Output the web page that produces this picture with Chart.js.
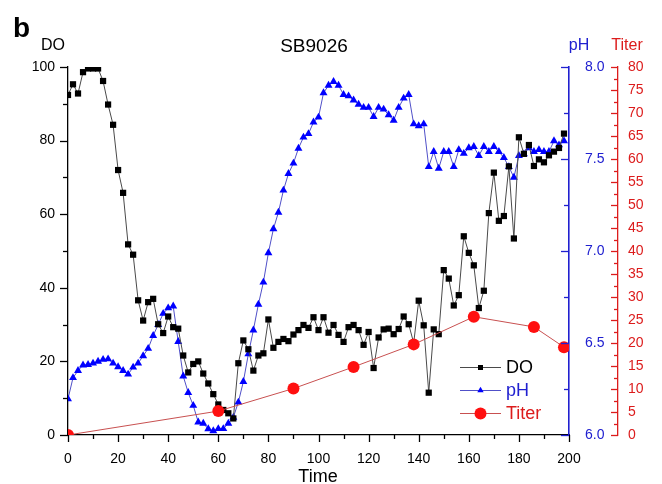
<!DOCTYPE html>
<html>
<head>
<meta charset="utf-8">
<script src="https://cdn.jsdelivr.net/npm/chart.js@4.4.0/dist/chart.umd.min.js"></script>
<style>
  html, body { margin: 0; padding: 0; background: #fff; }
  canvas { display: block; }
</style>
</head>
<body>
<canvas id="chart" width="662" height="484"></canvas>
<script>
// sampling times (h)
const time = [
  0, 2, 4, 6, 8, 10, 12, 14, 16, 18, 20, 22, 24, 26, 28, 30, 32, 34, 36, 38,
  40, 42, 44, 46, 48, 50, 52, 54, 56, 58, 60, 62, 64, 66, 68, 70, 72, 74, 76, 78,
  80, 82, 84, 86, 88, 90, 92, 94, 96, 98, 100, 102, 104, 106, 108, 110, 112, 114, 116, 118,
  120, 122, 124, 126, 128, 130, 132, 134, 136, 138, 140, 142, 144, 146, 148, 150, 152, 154, 156, 158,
  160, 162, 164, 166, 168, 170, 172, 174, 176, 178, 180, 182, 184, 186, 188, 190, 192, 194, 196, 198
];

const doValues = [
  92.4, 95.3, 92.8, 98.6, 99.6, 99.6, 99.6, 96.2, 89.8, 84.3, 72.0, 65.8, 51.8, 49.0, 36.6, 31.1, 36.1, 37.0, 30.1, 27.7,
  32.2, 29.3, 28.9, 21.6, 17.0, 19.3, 20.0, 16.7, 14.0, 11.1, 8.3, 6.8, 5.9, 4.5, 19.5, 25.7, 23.3, 17.5, 21.6, 22.2,
  31.4, 23.7, 25.3, 26.1, 25.5, 27.3, 28.5, 29.9, 29.1, 32.0, 28.5, 32.0, 27.8, 29.9, 27.2, 25.3, 29.3, 29.9, 28.5, 24.5,
  28.0, 18.2, 26.5, 28.7, 28.9, 27.4, 28.8, 32.2, 30.1, 25.0, 36.5, 29.8, 11.5, 28.7, 27.4, 44.8, 42.5, 35.2, 38.0, 54.0,
  49.5, 46.1, 34.5, 39.2, 60.3, 71.3, 58.2, 59.5, 73.0, 53.4, 80.9, 76.4, 78.8, 73.1, 74.9, 74.1, 76.0, 77.0, 78.0, 81.9
];

const phValues = [
  6.196, 6.311, 6.35, 6.38, 6.382, 6.39, 6.40, 6.41, 6.413, 6.39, 6.37, 6.35, 6.33, 6.368, 6.39, 6.43, 6.47, 6.54, 6.60, 6.66,
  6.69, 6.70, 6.507, 6.32, 6.23, 6.16, 6.07, 6.063, 6.033, 6.022, 6.034, 6.034, 6.063, 6.096, 6.178, 6.29, 6.44, 6.57, 6.71, 6.83,
  6.99, 7.12, 7.21, 7.33, 7.42, 7.477, 7.558, 7.618, 7.637, 7.70, 7.727, 7.859, 7.90, 7.92, 7.90, 7.85, 7.842, 7.82, 7.797, 7.78,
  7.78, 7.73, 7.78, 7.77, 7.74, 7.71, 7.78, 7.83, 7.85, 7.69, 7.68, 7.69, 7.458, 7.54, 7.449, 7.54, 7.54, 7.458, 7.55, 7.53,
  7.56, 7.567, 7.518, 7.567, 7.54, 7.567, 7.54, 7.507, 7.458, 7.40, 7.518, 7.527, 7.56, 7.54, 7.55, 7.54, 7.54, 7.598, 7.576, 7.598
];

const titerTime = [0, 60, 90, 114, 138, 162, 186, 198];
const titerValues = [0, 5.2, 10.1, 14.8, 19.7, 25.7, 23.5, 19.1];

const FONT = "'Liberation Sans', Arial, sans-serif";
const BLUE = '#2020d0';
const RED = '#dc1c1c';

const toPoints = (xs, ys) => xs.map((x, i) => ({ x: x, y: ys[i] }));

// minor/major tick marks drawn by hand so the two lengths can differ
const tickSpecs = [
  { id: 'x', step: 10, major: 20, len: [7, 4], side: 'down', color: '#000' },
  { id: 'yDO', step: 10, major: 20, len: [8, 5], side: 'left', color: '#000' },
  { id: 'yPH', step: 0.25, major: 0.5, len: [8, 5], side: 'left', color: BLUE },
  { id: 'yTiter', step: 2.5, major: 5, len: [7, 4], side: 'left', color: RED }
];

const decorations = {
  id: 'decorations',
  afterDraw(chart) {
    const ctx = chart.ctx;
    ctx.save();

    tickSpecs.forEach(spec => {
      const scale = chart.scales[spec.id];
      ctx.strokeStyle = spec.color;
      ctx.lineWidth = 1.3;
      const n = Math.round((scale.max - scale.min) / spec.step);
      for (let i = 0; i <= n; i++) {
        const v = scale.min + i * spec.step;
        const isMajor = Math.abs(v / spec.major - Math.round(v / spec.major)) < 1e-6;
        const len = isMajor ? spec.len[0] : spec.len[1];
        const p = Math.round(scale.getPixelForValue(v)) + 0.5;
        ctx.beginPath();
        if (spec.side === 'down') {
          ctx.moveTo(p, scale.top);
          ctx.lineTo(p, scale.top + len);
        } else {
          const x0 = spec.id === 'yDO' ? scale.right : scale.left;
          ctx.moveTo(x0, p);
          ctx.lineTo(x0 - len, p);
        }
        ctx.stroke();
      }
    });

    // panel letter, axis titles, chart title
    ctx.fillStyle = '#000';
    ctx.textBaseline = 'alphabetic';
    ctx.textAlign = 'left';
    ctx.font = 'bold 28px ' + FONT;
    ctx.fillText('b', 13, 37);

    ctx.font = '16px ' + FONT;
    ctx.textAlign = 'center';
    ctx.fillText('DO', 53, 50);
    ctx.fillStyle = BLUE;
    ctx.fillText('pH', 579, 50);
    ctx.fillStyle = RED;
    ctx.fillText('Titer', 627, 50);

    ctx.fillStyle = '#000';
    ctx.font = '19px ' + FONT;
    ctx.fillText('SB9026', 314, 52);

    ctx.font = '18px ' + FONT;
    ctx.fillText('Time', 318, 482);

    // legend
    const rows = [
      { ds: chart.data.datasets[1], y: 367, color: '#000' },
      { ds: chart.data.datasets[2], y: 390, color: BLUE },
      { ds: chart.data.datasets[0], y: 413, color: RED }
    ];
    ctx.font = '18px ' + FONT;
    ctx.textAlign = 'left';
    ctx.textBaseline = 'middle';
    rows.forEach(r => {
      ctx.strokeStyle = r.ds.borderColor;
      ctx.lineWidth = 1;
      ctx.beginPath();
      ctx.moveTo(460, r.y + 0.5);
      ctx.lineTo(501, r.y + 0.5);
      ctx.stroke();
      ctx.fillStyle = r.ds.pointBackgroundColor;
      ctx.strokeStyle = r.ds.pointBorderColor;
      Chart.helpers.drawPoint(ctx, {
        pointStyle: r.ds.pointStyle,
        radius: r.ds.pointStyle === 'circle' ? r.ds.pointRadius : r.ds.pointRadius * 0.8,
        rotation: 0,
        borderWidth: 0
      }, 480.5, r.y + 0.5);
      ctx.fillStyle = r.color;
      ctx.fillText(r.ds.label, 506, r.y + 1);
    });

    ctx.restore();
  }
};

new Chart(document.getElementById('chart'), {
  type: 'line',
  data: {
    datasets: [
      {
        label: 'Titer',
        data: toPoints(titerTime, titerValues),
        yAxisID: 'yTiter',
        borderColor: '#c85050',
        borderWidth: 1,
        pointStyle: 'circle',
        pointRadius: 6,
        pointBackgroundColor: '#ff1010',
        pointBorderColor: '#ff1010',
        pointBorderWidth: 0,
        order: 0
      },
      {
        label: 'DO',
        data: toPoints(time, doValues),
        yAxisID: 'yDO',
        borderColor: '#4a4a4a',
        borderWidth: 1,
        pointStyle: 'rect',
        pointRadius: 4.4,
        pointBackgroundColor: '#000',
        pointBorderColor: '#000',
        pointBorderWidth: 0,
        order: 1
      },
      {
        label: 'pH',
        data: toPoints(time, phValues),
        yAxisID: 'yPH',
        borderColor: '#5050c8',
        borderWidth: 1,
        pointStyle: 'triangle',
        pointRadius: 4.6,
        pointBackgroundColor: '#0000ff',
        pointBorderColor: '#0000ff',
        pointBorderWidth: 0,
        order: 2
      }
    ]
  },
  options: {
    responsive: false,
    animation: false,
    layout: { padding: { top: 67, left: 0, right: 0, bottom: 0 } },
    plugins: {
      legend: { display: false },
      tooltip: { enabled: false }
    },
    scales: {
      x: {
        type: 'linear',
        min: 0,
        max: 200,
        grid: { display: false, drawTicks: false },
        border: { display: true, color: '#000', width: 1.3 },
        ticks: {
          stepSize: 20,
          padding: 16,
          maxRotation: 0,
          color: '#000',
          font: { family: FONT, size: 14 }
        },
        afterFit(scale) { scale.height = 49; }
      },
      yDO: {
        position: 'left',
        min: 0,
        max: 100,
        grid: { display: false, drawTicks: false },
        border: { display: true, color: '#000', width: 1.3 },
        ticks: {
          stepSize: 20,
          padding: 13,
          color: '#000',
          font: { family: FONT, size: 14 }
        },
        afterFit(scale) { scale.width = 68; }
      },
      yPH: {
        position: 'right',
        min: 6,
        max: 8,
        grid: { display: false, drawTicks: false },
        border: { display: true, color: BLUE, width: 1.6 },
        ticks: {
          stepSize: 0.5,
          padding: 16,
          color: BLUE,
          font: { family: FONT, size: 14 },
          callback: v => v.toFixed(1)
        },
        afterFit(scale) { scale.width = 49; }
      },
      yTiter: {
        position: 'right',
        min: 0,
        max: 80,
        grid: { display: false, drawTicks: false },
        border: { display: true, color: RED, width: 1.3 },
        ticks: {
          stepSize: 5,
          padding: 10,
          color: RED,
          font: { family: FONT, size: 14 }
        },
        afterFit(scale) { scale.width = 44; }
      }
    }
  },
  plugins: [decorations]
});
</script>
</body>
</html>
